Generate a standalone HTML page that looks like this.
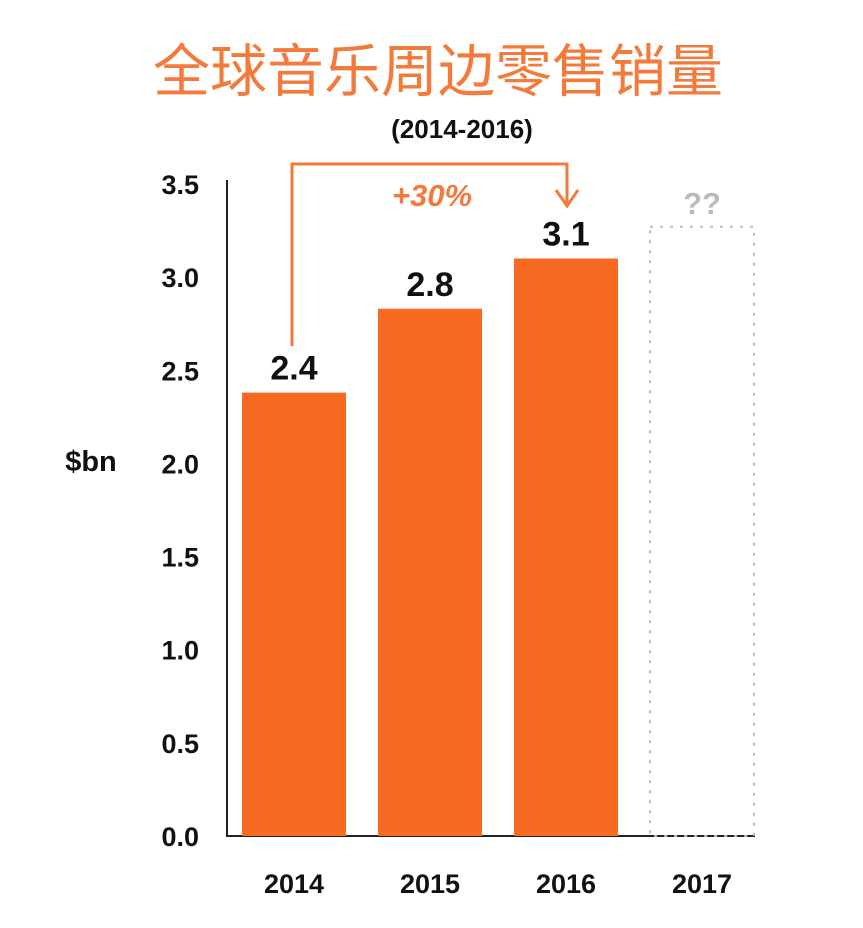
<!DOCTYPE html>
<html><head><meta charset="utf-8"><style>
html,body{margin:0;padding:0;background:#fff;}
body{width:863px;height:923px;overflow:hidden;font-family:"Liberation Sans","Noto Sans CJK SC",sans-serif;}
</style></head><body>
<svg id="chart" width="863" height="923" xmlns="http://www.w3.org/2000/svg" font-family="Liberation Sans, Noto Sans CJK SC, sans-serif">
<text x="438" y="91" text-anchor="middle" font-size="57" fill="#f47a3c" font-family="Noto Sans CJK SC, sans-serif">全球音乐周边零售销量</text>
<text x="462" y="138" text-anchor="middle" font-size="26" font-weight="bold" fill="#111">(2014-2016)</text>
<line x1="227" y1="180" x2="227" y2="836" stroke="#222" stroke-width="2"/>
<line x1="226" y1="836" x2="755" y2="836" stroke="#222" stroke-width="2"/>
<text x="91" y="471" text-anchor="middle" font-size="29" font-weight="bold" fill="#111">$bn</text>
<g id="ticks"></g><g id="bars"></g>
<path d="M292 346 V164 H567 V203" fill="none" stroke="#f47a3c" stroke-width="3"/>
<path d="M556 190 L567 206 L578 190" fill="none" stroke="#f47a3c" stroke-width="3"/>
<text x="432" y="206" text-anchor="middle" font-size="31" font-weight="bold" font-style="italic" fill="#f47a3c">+30%</text>
</svg>
<script>
const categories=["2014","2015","2016","2017"];
const values=[2.38,2.83,3.10,3.27];
const labels=["2.4","2.8","3.1","??"];
const tickValues=[0,0.5,1,1.5,2,2.5,3,3.5];
const tickLabels=["0.0","0.5","1.0","1.5","2.0","2.5","3.0","3.5"];
const NS="http://www.w3.org/2000/svg";
const y=v=>836-v*186.3;
const x=i=>242+i*136;
const bw=104;
const tg=document.getElementById('ticks'),bg=document.getElementById('bars');
tickValues.forEach((v,i)=>{const t=document.createElementNS(NS,'text');


t.setAttribute('x',199);t.setAttribute('y',y(v)+10);t.setAttribute('text-anchor','end');
t.setAttribute('font-size','27');t.setAttribute('font-weight','bold');t.setAttribute('fill','#111');
t.textContent=tickLabels[i];tg.appendChild(t);});
categories.forEach((c,i)=>{const last=i===3;
const r=document.createElementNS(NS,'rect');


r.setAttribute('x',x(i));r.setAttribute('y',y(values[i]));r.setAttribute('width',bw);r.setAttribute('height',836-y(values[i]));
if(last){r.setAttribute('fill','none');r.setAttribute('stroke','#bbb');r.setAttribute('stroke-width','2');r.setAttribute('stroke-dasharray','3 7');}
else r.setAttribute('fill','#f76a22');
bg.appendChild(r);
const l=document.createElementNS(NS,'text');


l.setAttribute('x',x(i)+bw/2);l.setAttribute('y',y(values[i])-(last?13:13));l.setAttribute('text-anchor','middle');
l.setAttribute('font-size',last?'31':'34');l.setAttribute('font-weight','bold');l.setAttribute('fill',last?'#bbb':'#111');
l.textContent=labels[i];bg.appendChild(l);
const xl=document.createElementNS(NS,'text');


xl.setAttribute('x',x(i)+bw/2);xl.setAttribute('y',893);xl.setAttribute('text-anchor','middle');
xl.setAttribute('font-size','27');xl.setAttribute('font-weight','bold');xl.setAttribute('fill','#111');
xl.textContent=c;bg.appendChild(xl);});
</script>
</body></html>
